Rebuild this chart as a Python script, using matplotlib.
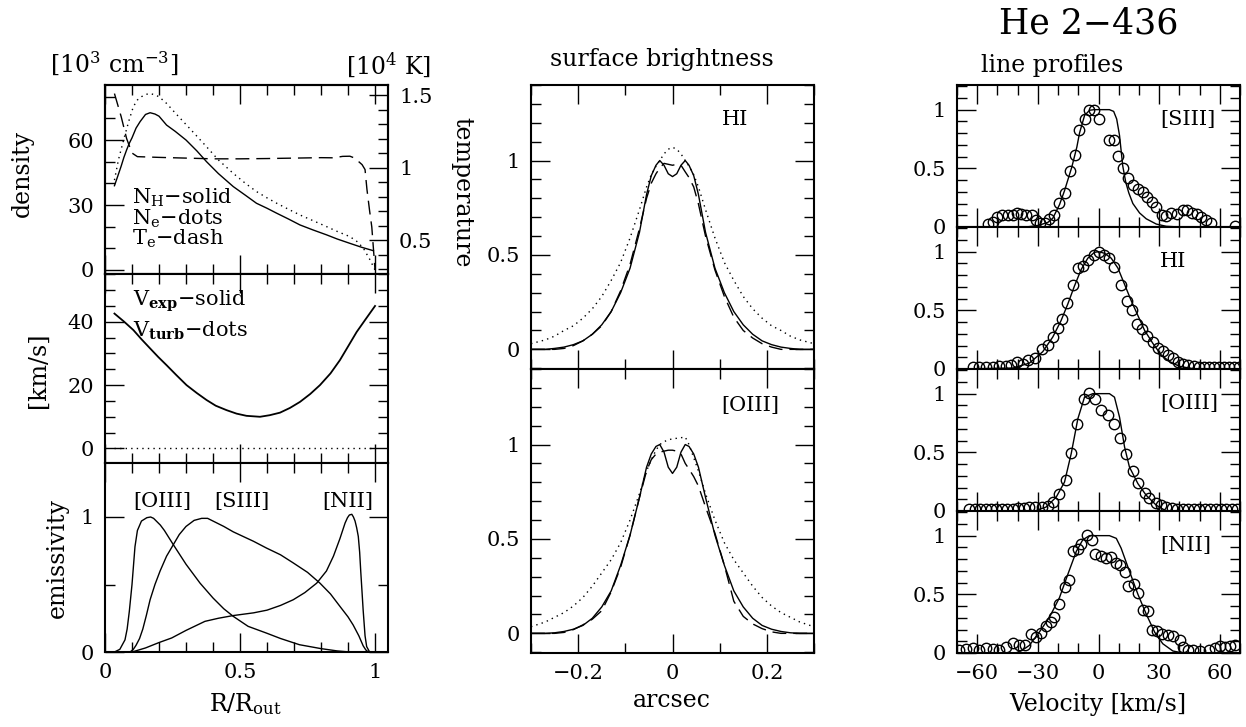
import matplotlib
matplotlib.use('Agg')
import matplotlib.pyplot as plt
from matplotlib.ticker import MultipleLocator, FuncFormatter

plt.rcParams['font.family'] = ['DejaVu Serif']
plt.rcParams['mathtext.fontset'] = 'dejavuserif'

# ---------------- left column: model structure ----------------
r_nh = [0.035, 0.045, 0.06, 0.07, 0.08, 0.09, 0.10, 0.115, 0.13, 0.15, 0.167, 0.185, 0.20, 0.228, 0.26, 0.30,
        0.34, 0.376, 0.42, 0.475, 0.52, 0.561, 0.60, 0.636, 0.68, 0.722, 0.77, 0.821, 0.86, 0.907, 0.95, 0.994]
nh = [38.9, 42.5, 48.0, 52.0, 55.4, 58.5, 61.0, 65.5, 68.5, 71.8, 72.6, 72.0, 71.0, 66.9, 64.0, 60.0,
      55.0, 50.0, 44.5, 38.5, 34.5, 30.8, 28.5, 26.2, 23.5, 20.8, 18.5, 16.2, 14.3, 12.3, 10.5, 8.9]

r_ne = [0.035, 0.05, 0.072, 0.09, 0.105, 0.12, 0.135, 0.15, 0.167, 0.185, 0.20, 0.228, 0.26, 0.302, 0.34, 0.376,
        0.42, 0.475, 0.52, 0.561, 0.60, 0.636, 0.68, 0.722, 0.77, 0.821, 0.86, 0.907, 0.935, 0.957, 0.98, 1.0]
ne = [41.5, 51.0, 61.5, 69.5, 75.4, 78.5, 80.0, 81.0, 81.5, 80.8, 80.0, 76.9, 72.5, 66.9, 61.8, 56.9,
      50.8, 44.6, 40.0, 36.2, 33.3, 30.8, 28.0, 25.4, 22.8, 20.0, 17.8, 15.4, 13.0, 10.0, 5.0, 0.0]

r_te = [0.035, 0.06, 0.08, 0.10, 0.12, 0.2, 0.3, 0.4, 0.5, 0.6, 0.7, 0.8, 0.846, 0.88, 0.907, 0.925, 0.938, 0.952,
        0.963, 0.97, 0.98, 0.988, 1.0]
te = [1.51, 1.35, 1.20, 1.10, 1.075, 1.07, 1.065, 1.06, 1.06, 1.062, 1.065, 1.068, 1.067, 1.077, 1.078, 1.065,
      1.043, 1.02, 0.986, 0.85, 0.70, 0.59, 0.293]

r_v = [0.035, 0.07, 0.105, 0.135, 0.167, 0.197, 0.228, 0.265, 0.302, 0.34, 0.376, 0.41, 0.450, 0.487, 0.524,
       0.574, 0.61, 0.648, 0.685, 0.722, 0.76, 0.796, 0.835, 0.870, 0.90, 0.932, 0.965, 1.0]
v_exp = [42.6, 40.1, 37.4, 34.5, 31.6, 28.9, 26.3, 23.1, 20.0, 17.5, 15.3, 13.5, 12.1, 11.0, 10.3,
         10.0, 10.5, 11.3, 12.8, 14.7, 17.2, 20.0, 23.7, 27.9, 32.2, 36.8, 40.8, 45.0]
r_turb = [0.035, 1.0]
v_turb = [0.0, 0.0]

r_o3 = [0.035, 0.055, 0.074, 0.082, 0.09, 0.10, 0.111, 0.12, 0.135, 0.155, 0.169, 0.18, 0.19, 0.205, 0.22, 0.253,
        0.30, 0.352, 0.40, 0.44, 0.475, 0.53, 0.598, 0.65, 0.72, 0.80, 0.86, 0.907]
em_o3 = [0.0, 0.02, 0.09, 0.17, 0.30, 0.50, 0.78, 0.90, 0.97, 0.995, 1.0, 0.99, 0.97, 0.94, 0.90, 0.795,
         0.65, 0.51, 0.40, 0.32, 0.264, 0.19, 0.14, 0.10, 0.054, 0.025, 0.008, 0.0]
r_s3 = [0.093, 0.105, 0.115, 0.128, 0.14, 0.153, 0.167, 0.185, 0.204, 0.228, 0.253, 0.275, 0.30, 0.33, 0.358,
        0.38, 0.40, 0.44, 0.475, 0.55, 0.598, 0.65, 0.697, 0.75, 0.796, 0.835, 0.87, 0.90, 0.919, 0.94, 0.956,
        0.966, 0.975]
em_s3 = [0.0, 0.02, 0.05, 0.10, 0.17, 0.27, 0.387, 0.50, 0.60, 0.71, 0.795, 0.87, 0.93, 0.975, 0.99,
         0.99, 0.97, 0.93, 0.89, 0.82, 0.77, 0.72, 0.66, 0.59, 0.51, 0.43, 0.338, 0.26, 0.20, 0.12, 0.046,
         0.015, 0.0]
r_n2 = [0.10, 0.15, 0.20, 0.247, 0.30, 0.37, 0.42, 0.475, 0.55, 0.60, 0.65, 0.697, 0.74, 0.784, 0.82, 0.846, 0.87,
        0.889, 0.898, 0.905, 0.914, 0.92, 0.926, 0.932, 0.938, 0.943, 0.947, 0.952, 0.956, 0.963, 0.969, 0.98]
em_n2 = [0.0, 0.03, 0.07, 0.104, 0.16, 0.227, 0.25, 0.27, 0.29, 0.31, 0.345, 0.387, 0.44, 0.51, 0.60, 0.71, 0.84,
         0.955, 0.995, 1.015, 1.02, 1.0, 0.97, 0.92, 0.856, 0.74, 0.60, 0.44, 0.31, 0.12, 0.04, 0.0]

# ---------------- middle column: surface brightness ----------------
arcsec = [-0.3, -0.27, -0.25, -0.23, -0.21, -0.19, -0.17, -0.15, -0.13, -0.11, -0.09, -0.07, -0.055, -0.045,
          -0.035, -0.027, -0.018, -0.009, 0.0, 0.009, 0.018, 0.027, 0.035, 0.045, 0.055, 0.07, 0.09, 0.11,
          0.13, 0.15, 0.17, 0.19, 0.21, 0.23, 0.25, 0.27, 0.3]
hi_solid = [0.0, 0.0, 0.005, 0.012, 0.025, 0.045, 0.08, 0.13, 0.20, 0.30, 0.43, 0.62, 0.82, 0.92, 0.975, 1.0, 0.975,
            0.93, 0.915, 0.93, 0.975, 1.0, 0.975, 0.92, 0.82, 0.62, 0.43, 0.30, 0.20, 0.13, 0.08, 0.045, 0.025,
            0.012, 0.005, 0.0, 0.0]
hi_dots = [0.03, 0.05, 0.07, 0.10, 0.125, 0.165, 0.215, 0.28, 0.365, 0.46, 0.59, 0.74, 0.86, 0.925, 0.97, 1.0, 1.035,
           1.06, 1.07, 1.06, 1.035, 1.0, 0.97, 0.925, 0.86, 0.74, 0.59, 0.46, 0.365, 0.28, 0.215, 0.165, 0.125,
           0.10, 0.07, 0.05, 0.03]
hi_dash = [0.0, 0.0, 0.0, 0.005, 0.02, 0.045, 0.08, 0.125, 0.20, 0.31, 0.45, 0.64, 0.80, 0.88, 0.93, 0.96, 0.985,
           0.98, 0.975, 0.98, 0.975, 0.94, 0.91, 0.86, 0.77, 0.60, 0.42, 0.28, 0.17, 0.10, 0.06, 0.03, 0.012,
           0.0, 0.0, 0.0, 0.0]
o3_solid = [0.0, 0.0, 0.003, 0.01, 0.022, 0.042, 0.08, 0.14, 0.225, 0.36, 0.52, 0.72, 0.88, 0.95, 0.99, 1.0, 0.96,
            0.88, 0.847, 0.88, 0.96, 1.0, 0.99, 0.95, 0.88, 0.72, 0.52, 0.36, 0.225, 0.14, 0.08, 0.042, 0.022,
            0.01, 0.003, 0.0, 0.0]
o3_dots = [0.035, 0.06, 0.085, 0.11, 0.145, 0.19, 0.25, 0.32, 0.39, 0.48, 0.60, 0.74, 0.86, 0.92, 0.97, 1.0, 1.015,
           1.025, 1.03, 1.033, 1.036, 1.04, 1.0, 0.93, 0.86, 0.74, 0.60, 0.48, 0.39, 0.32, 0.25, 0.19, 0.145,
           0.11, 0.085, 0.06, 0.035]
o3_dash = [0.0, 0.0, 0.0, 0.005, 0.02, 0.045, 0.075, 0.12, 0.22, 0.35, 0.52, 0.72, 0.86, 0.92, 0.95, 0.96, 0.965,
           0.97, 0.97, 0.965, 0.95, 0.90, 0.87, 0.83, 0.78, 0.67, 0.53, 0.36, 0.17, 0.09, 0.05, 0.025, 0.008,
           0.0, 0.0, 0.0, 0.0]

# ---------------- right column: line profiles ----------------
s3_v = [-54.8, -52.3, -50.3, -47.7, -44.9, -42.4, -40.4, -38.3, -35.8, -32.8, -30.9, -28.9, -26.7, -24.3, -21.8,
        -19.3, -16.8, -14.0, -11.4, -9.4, -6.9, -4.8, -2.0, 0.0, 5.4, 7.9, 9.6, 12.0, 14.5, 17.0, 19.5, 21.9,
        24.1, 26.6, 28.2, 31.5, 33.5, 36.0, 39.0, 41.7, 43.7, 46.2, 48.7, 50.8, 53.3, 55.8, 67.3]
s3_obs = [0.023, 0.043, 0.085, 0.10, 0.10, 0.105, 0.12, 0.113, 0.105, 0.10, 0.057, 0.034, 0.034, 0.071, 0.10,
          0.207, 0.29, 0.477, 0.611, 0.824, 0.924, 1.0, 1.0, 0.924, 0.745, 0.745, 0.608, 0.503, 0.418, 0.361,
          0.327, 0.298, 0.256, 0.213, 0.171, 0.10, 0.091, 0.122, 0.113, 0.142, 0.142, 0.122, 0.113, 0.085,
          0.057, 0.034, 0.006]
s3_mv = [-70, -36, -30, -25, -22.6, -19.3, -16.8, -13.2, -10.7, -9.4, -6.9, -4.4, -2.0, 1.3, 5.4, 7.5, 9.0, 10.4,
         12.0, 13.5, 15.0, 17.0, 20.3, 23.6, 28.6, 33.5, 40, 70]
s3_mod = [0, 0, 0.012, 0.04, 0.075, 0.19, 0.31, 0.511, 0.682, 0.80, 0.95, 0.995, 1.0, 1.0, 1.0, 0.985, 0.92, 0.78,
          0.52, 0.38, 0.29, 0.20, 0.12, 0.07, 0.025, 0.006, 0, 0]

hi_v = [-62.2, -58.9, -55.6, -52.3, -49.0, -45.6, -43.2, -40.4, -37.5, -34.7, -31.3, -28.1, -25.1, -22.6, -20.1,
        -18.0, -15.5, -12.8, -10.2, -7.9, -5.3, -2.0, 0.0, 2.5, 5.0, 7.6, 11.0, 14.0, 16.5, 19.0, 21.5, 24.2,
        26.9, 29.5, 32.0, 34.5, 37.0, 39.5, 42.0, 44.5, 47.0, 49.5, 52.0, 54.5, 57.0, 59.5, 62.0, 64.5, 67.0, 69.5]
hi_obs = [0.02, 0.02, 0.02, 0.02, 0.022, 0.025, 0.03, 0.056, 0.042, 0.078, 0.097, 0.167, 0.204, 0.273, 0.35,
          0.43, 0.56, 0.72, 0.86, 0.88, 0.93, 0.97, 1.0, 0.97, 0.95, 0.87, 0.72, 0.58, 0.50, 0.38, 0.34, 0.28,
          0.23, 0.18, 0.15, 0.12, 0.09, 0.06, 0.04, 0.03, 0.025, 0.02, 0.02, 0.02, 0.02, 0.02, 0.02, 0.02, 0.02, 0.02]
hi_mv = [-70, -42.4, -34.2, -27.6, -22.6, -18.5, -15.2, -11.9, -8.6, -5.3, -2.0, 0.0, 3.0, 6.3, 9.6, 12.9, 16.2,
         19.5, 22.8, 26.9, 31.0, 35.1, 40.1, 46.7, 70]
hi_mod = [0, 0.008, 0.05, 0.147, 0.273, 0.413, 0.553, 0.707, 0.847, 0.944, 0.994, 1.0, 0.986, 0.944, 0.86, 0.721,
          0.581, 0.455, 0.329, 0.218, 0.12, 0.064, 0.022, 0.003, 0]

o3_v = [-64.0, -61.3, -58.6, -55.9, -53.2, -50.5, -47.8, -45.1, -42.4, -39.7, -37.0, -34.3, -31.6, -27.9, -25.1,
        -22.6, -19.3, -16.3, -13.5, -10.4, -7.4, -4.5, -1.5, 1.3, 4.6, 7.6, 10.4, 13.7, 17.0, 19.5, 22.8, 25.2,
        28.6, 31.0, 33.6, 36.3, 39.0, 41.7, 44.4, 47.1, 49.8, 52.5, 55.2, 57.9, 60.6, 63.3, 66.0, 68.7]
o3_obs = [0.02, 0.02, 0.02, 0.02, 0.02, 0.02, 0.02, 0.02, 0.02, 0.022, 0.025, 0.03, 0.03, 0.034, 0.043, 0.077,
          0.148, 0.268, 0.498, 0.745, 0.958, 1.009, 0.952, 0.864, 0.821, 0.745, 0.625, 0.483, 0.341, 0.242, 0.157,
          0.114, 0.068, 0.048, 0.035, 0.025, 0.02, 0.02, 0.02, 0.02, 0.02, 0.02, 0.02, 0.02, 0.02, 0.02, 0.02, 0.02]
o3_mv = [-70, -31.6, -25.9, -20.9, -16.8, -13.5, -10.2, -6.9, -2.8, 5.4, 7.9, 10.4, 12.9, 15.3, 19.5, 23.6, 28.6,
         33.5, 70]
o3_mod = [0, 0, 0.034, 0.119, 0.247, 0.489, 0.787, 0.971, 1.0, 1.0, 0.97, 0.80, 0.545, 0.375, 0.233, 0.134, 0.049,
          0.0, 0]

n2_v = [-68.8, -65.5, -62.2, -58.9, -55.6, -52.3, -49.0, -46.0, -42.4, -39.4, -36.6, -33.3, -30.9, -28.4, -25.9,
        -23.4, -21.8, -19.3, -16.8, -14.7, -12.4, -10.2, -8.6, -5.6, -3.1, -1.5, 1.3, 3.8, 6.3, 8.8, 10.7, 12.9,
        14.5, 17.8, 19.5, 21.9, 24.4, 26.6, 28.9, 31.4, 34.3, 37.1, 40.1, 41.7, 44.2, 46.7, 50.0, 54.9, 57.4,
        59.9, 62.4, 64.9, 67.3]
n2_obs = [0.028, 0.037, 0.045, 0.028, 0.042, 0.037, 0.028, 0.051, 0.084, 0.065, 0.065, 0.158, 0.135, 0.169, 0.233,
          0.261, 0.303, 0.416, 0.562, 0.618, 0.865, 0.885, 0.927, 1.006, 0.964, 0.843, 0.823, 0.809, 0.815, 0.767,
          0.753, 0.691, 0.570, 0.585, 0.514, 0.366, 0.354, 0.197, 0.185, 0.163, 0.155, 0.149, 0.113, 0.051,
          0.028, 0.023, 0.017, 0.028, 0.045, 0.056, 0.051, 0.056, 0.065]
n2_mv = [-70, -41, -38, -34.2, -29.2, -24.3, -19.3, -15.2, -11.0, -7.8, -4.5, 5.4, 8.8, 11.2, 15.3, 19.5, 23.6,
         27.8, 31.8, 36.8, 41.7, 70]
n2_mod = [0, 0, 0.02, 0.065, 0.18, 0.303, 0.472, 0.669, 0.865, 0.964, 1.0, 1.0, 0.977, 0.893, 0.697, 0.5, 0.332,
          0.177, 0.079, 0.017, 0, 0]

W, H = 1246, 727
fig = plt.figure(figsize=(W / 100, H / 100), dpi=100)


def box(x0, y0, x1, y1):
    return [x0 / W, 1 - y1 / H, (x1 - x0) / W, (y1 - y0) / H]


def fmt(v, pos):
    s = '%g' % round(v, 6)
    if s in ('-0', '0'):
        return '0'
    return s.replace('-', '\u2212')


def style(ax, xmaj, xmin, ymaj, ymin, right=True):
    ax.xaxis.set_major_locator(MultipleLocator(xmaj))
    ax.xaxis.set_minor_locator(MultipleLocator(xmin))
    ax.yaxis.set_major_locator(MultipleLocator(ymaj))
    ax.yaxis.set_minor_locator(MultipleLocator(ymin))
    ax.xaxis.set_major_formatter(FuncFormatter(fmt))
    ax.yaxis.set_major_formatter(FuncFormatter(fmt))
    ax.tick_params(which='both', direction='in', top=True, right=right, labelsize=15, pad=8)
    ax.tick_params(which='major', length=14, width=1.0)
    ax.tick_params(which='minor', length=7, width=1.0)
    for sp in ax.spines.values():
        sp.set_linewidth(1.5)


lw = 1.0
dots = (0, (1, 3))
dash = (0, (10, 5))

# density / temperature
ax1 = fig.add_axes(box(105, 85, 388, 274))
ax1.plot(r_nh, nh, color='black', lw=lw)
ax1.plot(r_ne, ne, color='black', lw=lw, linestyle=dots)
ax1.set_xlim(0, 1.048)
ax1.set_ylim(-1.85, 85.4)
style(ax1, 0.5, 0.1, 30, 10, right=False)
ax1.tick_params(labelbottom=False)
tw = ax1.twinx()
tw.plot(r_te, te, color='black', lw=lw, linestyle=dash)
tw.set_ylim(0.266, 1.569)
tw.yaxis.set_major_locator(MultipleLocator(0.5))
tw.yaxis.set_minor_locator(MultipleLocator(0.1))
tw.yaxis.set_major_formatter(FuncFormatter(fmt))
tw.tick_params(which='both', direction='in', labelsize=15, pad=8)
tw.tick_params(which='major', length=14, width=1.0)
tw.tick_params(which='minor', length=7, width=1.0)
for sp in tw.spines.values():
    sp.set_linewidth(1.5)
ax1.text(0.099, 30.8, 'N$_{\\rm H}$\u2212solid', fontsize=15, va='baseline')
ax1.text(0.099, 20.8, 'N$_{\\rm e}$\u2212dots', fontsize=15, va='baseline')
ax1.text(0.099, 11.5, 'T$_{\\rm e}$\u2212dash', fontsize=15, va='baseline')

# velocities
ax2 = fig.add_axes(box(105, 274, 388, 463))
ax2.plot(r_v, v_exp, color='black', lw=1.3)
ax2.plot(r_turb, v_turb, color='black', lw=lw, linestyle=dots)
ax2.set_xlim(0, 1.048)
ax2.set_ylim(-4.6, 55.1)
style(ax2, 0.5, 0.1, 20, 5)
ax2.tick_params(labelbottom=False)
ax2.text(0.102, 45.1, 'V$_{\\bf exp}$\u2212solid', fontsize=15, va='baseline')
ax2.text(0.102, 35.3, 'V$_{\\bf turb}$\u2212dots', fontsize=15, va='baseline')

# emissivity
ax3 = fig.add_axes(box(105, 463, 388, 652))
ax3.plot(r_o3, em_o3, color='black', lw=lw)
ax3.plot(r_s3, em_s3, color='black', lw=lw)
ax3.plot(r_n2, em_n2, color='black', lw=lw)
ax3.set_xlim(0, 1.048)
ax3.set_ylim(0, 1.4)
style(ax3, 0.5, 0.1, 1, 0.5)
ax3.text(0.212, 1.074, '[OIII]', fontsize=15, ha='center', va='baseline')
ax3.text(0.506, 1.074, '[SIII]', fontsize=15, ha='center', va='baseline')
ax3.text(0.898, 1.074, '[NII]', fontsize=15, ha='center', va='baseline')

fig.text(22 / W, 1 - 173 / H, 'density', rotation=90, fontsize=17, ha='center', va='center')
fig.text(38 / W, 1 - 370 / H, '[km/s]', rotation=90, fontsize=17, ha='center', va='center')
fig.text(57 / W, 1 - 558 / H, 'emissivity', rotation=90, fontsize=17, ha='center', va='center')
fig.text(462 / W, 1 - 192 / H, 'temperature', rotation=-90, fontsize=17, ha='center', va='center')
fig.text(114 / W, 1 - 73 / H, '[10$^3$ cm$^{-3}$]', fontsize=17, ha='center', va='baseline')
fig.text(389 / W, 1 - 73 / H, '[10$^4$ K]', fontsize=17, ha='center', va='baseline')
fig.text(245 / W, 1 - 711 / H, 'R/R$_{\\rm out}$', fontsize=17, ha='center', va='baseline')

# surface brightness
axm1 = fig.add_axes(box(531, 85, 814, 369))
axm1.plot(arcsec, hi_solid, color='black', lw=lw)
axm1.plot(arcsec, hi_dots, color='black', lw=lw, linestyle=dots)
axm1.plot(arcsec, hi_dash, color='black', lw=lw, linestyle=dash)
axm1.set_xlim(-0.3, 0.3)
axm1.set_ylim(-0.104, 1.40)
style(axm1, 0.2, 0.1, 0.5, 0.1)
axm1.tick_params(labelbottom=False)
axm1.text(0.104, 1.19, 'HI', fontsize=15, va='baseline')

axm2 = fig.add_axes(box(531, 369, 814, 653))
axm2.plot(arcsec, o3_solid, color='black', lw=lw)
axm2.plot(arcsec, o3_dots, color='black', lw=lw, linestyle=dots)
axm2.plot(arcsec, o3_dash, color='black', lw=lw, linestyle=dash)
axm2.set_xlim(-0.3, 0.3)
axm2.set_ylim(-0.104, 1.40)
style(axm2, 0.2, 0.1, 0.5, 0.1)
axm2.text(0.104, 1.18, '[OIII]', fontsize=15, va='baseline')

fig.text(662 / W, 1 - 66 / H, 'surface brightness', fontsize=17, ha='center', va='baseline')
fig.text(672 / W, 1 - 707 / H, 'arcsec', fontsize=17, ha='center', va='baseline')

# line profiles
profiles = [
    (s3_v, s3_obs, s3_mv, s3_mod, '[SIII]', 85, 227),
    (hi_v, hi_obs, hi_mv, hi_mod, 'HI', 227, 369),
    (o3_v, o3_obs, o3_mv, o3_mod, '[OIII]', 369, 511),
    (n2_v, n2_obs, n2_mv, n2_mod, '[NII]', 511, 653),
]
for i, (ov, oy, mv, my, name, y0, y1) in enumerate(profiles):
    ax = fig.add_axes(box(957, y0, 1240, y1))
    ax.plot(mv, my, color='black', lw=lw)
    ax.plot(ov, oy, linestyle='none', marker='o', ms=7.5, mfc='none', mec='black', mew=1.0, clip_on=True)
    ax.set_xlim(-70, 70)
    ax.set_ylim(0, 1.21)
    style(ax, 30, 10, 0.5, 0.1)
    if i < 3:
        ax.tick_params(labelbottom=False)
    ax.text(30.5, 0.87, name, fontsize=15, va='baseline')

fig.text(1089 / W, 1 - 33 / H, 'He 2\u2212436', fontsize=25, ha='center', va='baseline')
fig.text(1052 / W, 1 - 72 / H, 'line profiles', fontsize=17, ha='center', va='baseline')
fig.text(1098 / W, 1 - 711 / H, 'Velocity [km/s]', fontsize=17, ha='center', va='baseline')

fig.savefig('out.png', dpi=100)
